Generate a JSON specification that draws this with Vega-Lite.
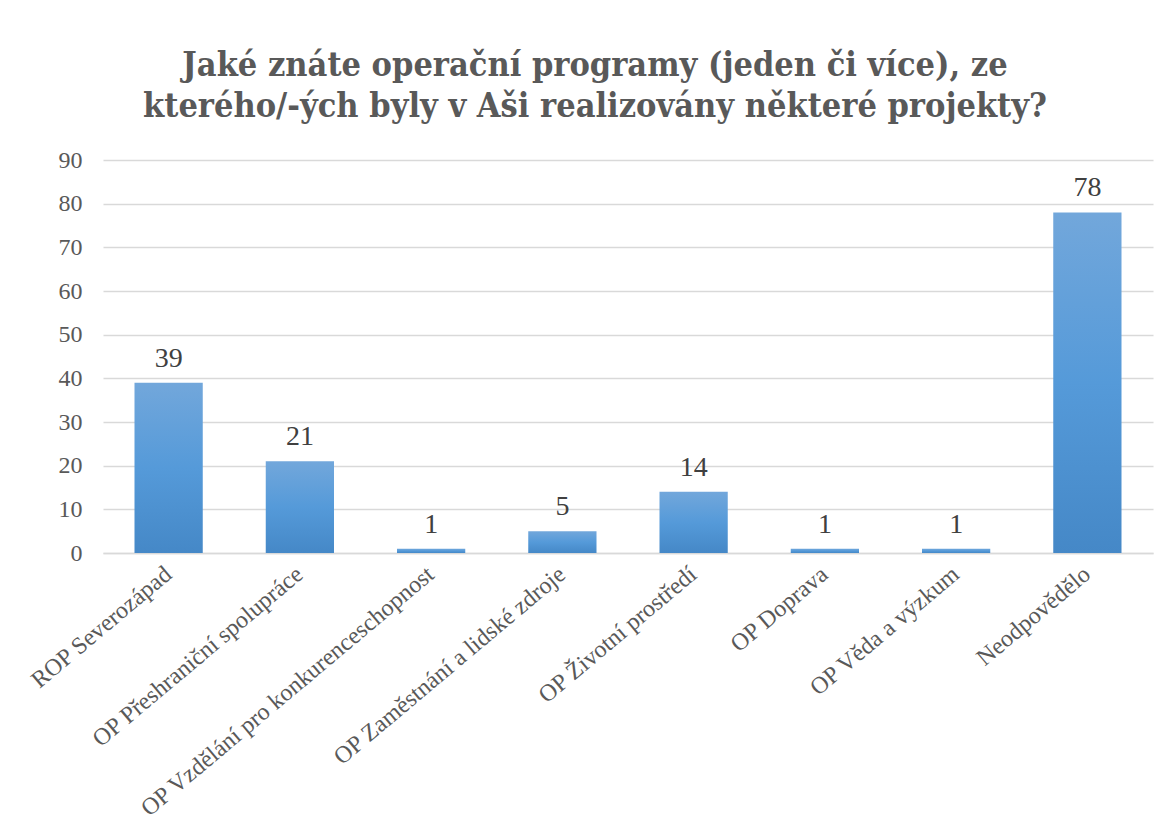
{
  "$schema": "https://vega.github.io/schema/vega-lite/v6.json",
  "autosize": {"type": "none"},
  "width": 1050,
  "height": 393,
  "padding": {"left": 103, "top": 160, "right": 17, "bottom": 284},
  "background": "white",
  "config": {"view": {"stroke": null}},
  "title": {
    "text": ["Jaké znáte operační programy (jeden či více), ze", "kterého/-ých byly v Aši realizovány některé projekty?"],
    "font": "DejaVu Serif Condensed",
    "fontSize": 34,
    "fontWeight": "bold",
    "color": "#595959",
    "anchor": "middle",
    "dx": -33,
    "offset": 24,
    "lineHeight": 41
  },
  "data": {
    "values": [
      {"program": "ROP Severozápad", "count": 39},
      {"program": "OP Přeshraniční spolupráce", "count": 21},
      {"program": "OP Vzdělání pro konkurenceschopnost", "count": 1},
      {"program": "OP Zaměstnání a lidské zdroje", "count": 5},
      {"program": "OP Životní prostředí", "count": 14},
      {"program": "OP Doprava", "count": 1},
      {"program": "OP Věda a výzkum", "count": 1},
      {"program": "Neodpovědělo", "count": 78}
    ]
  },
  "encoding": {
    "x": {
      "field": "program",
      "type": "nominal",
      "sort": null,
      "scale": {"paddingInner": 0.48, "paddingOuter": 0.24},
      "axis": {
        "title": null,
        "labelAngle": -40,
        "labelAlign": "right",
        "labelBaseline": "middle",
        "labelFont": "Liberation Serif",
        "labelFontSize": 24,
        "labelColor": "#595959",
        "labelLimit": 600,
        "labelPadding": 18,
        "ticks": false,
        "domain": true,
        "domainColor": "#d9d9d9",
        "domainWidth": 1.5,
        "grid": false
      }
    },
    "y": {
      "field": "count",
      "type": "quantitative",
      "scale": {"domain": [0, 90]},
      "axis": {
        "title": null,
        "values": [0, 10, 20, 30, 40, 50, 60, 70, 80, 90],
        "labelFont": "Liberation Serif",
        "labelFontSize": 24,
        "labelColor": "#595959",
        "labelPadding": 21,
        "ticks": false,
        "domain": false,
        "grid": true,
        "gridColor": "#d9d9d9",
        "gridWidth": 1.5
      }
    }
  },
  "layer": [
    {
      "mark": {
        "type": "bar",
        "color": {
          "gradient": "linear",
          "x1": 0, "y1": 0, "x2": 0, "y2": 1,
          "stops": [
            {"offset": 0, "color": "#72A7DB"},
            {"offset": 0.5, "color": "#559AD9"},
            {"offset": 1, "color": "#4588C7"}
          ]
        }
      }
    },
    {
      "mark": {
        "type": "text",
        "baseline": "bottom",
        "dy": -10,
        "font": "Liberation Serif",
        "fontSize": 28,
        "color": "#404040"
      },
      "encoding": {"text": {"field": "count", "type": "quantitative"}}
    }
  ]
}
